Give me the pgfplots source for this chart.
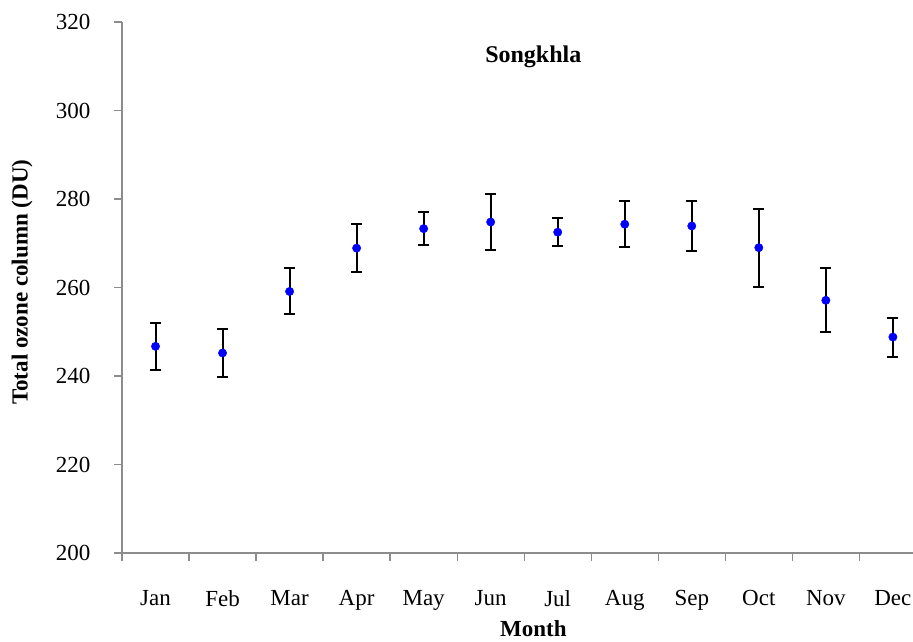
\documentclass[border=0pt]{standalone}
\usepackage{pgfplots}
\usepackage{pgfplotstable}
\pgfplotsset{compat=1.18}
\usepackage{fontspec}
\setmainfont{Liberation Serif}

% Monthly mean total ozone column and its standard deviation
\pgfplotstableread{
m   val    err
0   246.7  5.25
1   245.2  5.35
2   259.1  5.20
3   268.9  5.50
4   273.3  3.65
5   274.8  6.40
6   272.5  3.20
7   274.3  5.25
8   273.9  5.75
9   269.0  8.80
10  257.1  7.25
11  248.8  4.40
}\ozone

\definecolor{axisgray}{HTML}{8C8C8C}

\begin{document}
\begin{tikzpicture}[font=\fontsize{23}{27}\selectfont]
\path[use as bounding box] (-122pt,-89pt) rectangle (791pt,553pt);
\begin{axis}[
  scale only axis,
  width=791pt, height=531pt,
  xmin=-0.5, xmax=11.3,
  ymin=200, ymax=320,
  axis x line*=bottom, axis y line*=left,
  axis line style={draw=axisgray, line width=1.3pt, -},
  ytick={200,220,...,320},
  xtick={0,...,11},
  xticklabels={Jan,Feb,Mar,Apr,May,Jun,Jul,Aug,Sep,Oct,Nov,Dec},
  minor xtick={-0.5,0.5,...,10.5},
  major x tick style={draw=none},
  tick align=outside,
  major tick length=8pt, minor tick length=8pt,
  every tick/.style={draw=axisgray, line width=1.3pt},
  minor tick style={draw=axisgray, line width=1.3pt},
  /pgf/number format/assume math mode=true,
  xticklabel style={anchor=north, yshift=-26pt},
  yticklabel style={anchor=east, xshift=-20pt},
  every axis y label/.style={at={(axis description cs:-0.1264,0.51)}, rotate=90, anchor=center, font=\fontsize{23}{27}\selectfont\bfseries},
  every axis x label/.style={at={(axis description cs:0.52,-0.142)}, anchor=center, inner sep=0pt, font=\fontsize{23}{27}\selectfont\bfseries},
  ylabel={Total ozone column (DU)},
  xlabel={Month},
  clip=false,
]
\addplot[only marks, mark=*, mark size=4.2pt,
  mark options={fill=blue, draw=blue},
  error bars/.cd, y dir=both, y explicit,
  error bar style={black, line width=2pt},
  error mark options={black, rotate=90, mark size=5.5pt, line width=2pt}]
  table[x=m, y=val, y error=err]{\ozone};
\node[font=\fontsize{24}{28}\selectfont\bfseries] at (rel axis cs:0.52,0.935) {Songkhla};
\end{axis}
\end{tikzpicture}
\end{document}
